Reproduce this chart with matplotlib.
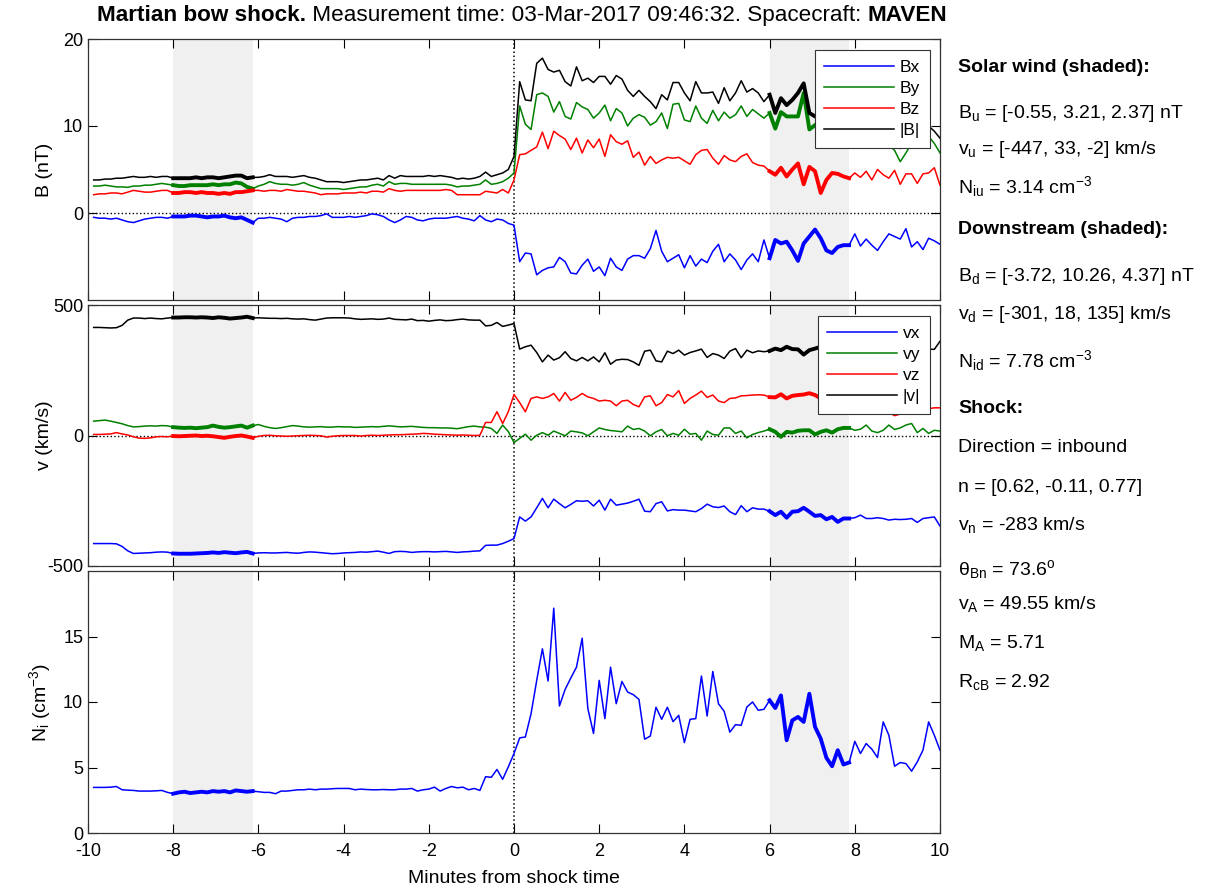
import numpy as np
import matplotlib
matplotlib.use('Agg')
import matplotlib.pyplot as plt

plt.rcParams['font.family'] = ['Liberation Sans', 'DejaVu Sans']
plt.rcParams['mathtext.fontset'] = 'custom'
plt.rcParams['mathtext.rm'] = 'Liberation Sans'
plt.rcParams['mathtext.it'] = 'Liberation Sans:italic'
plt.rcParams['mathtext.bf'] = 'Liberation Sans:bold'
plt.rcParams['axes.unicode_minus'] = False

# ---------------- data (minutes from shock time, 8 s cadence) ----------------
t = np.arange(1, 151) * 8 / 60 - 10

Bx = [-0.5,-0.6,-0.6,-0.7,-0.6,-0.8,-1.0,-1.1,-0.9,-0.7, -0.6,-0.5,-0.5,-0.6,-0.4,-0.4,-0.4,-0.3,-0.3,-0.4,
      -0.5,-0.4,-0.4,-0.3,-0.5,-0.6,-0.5,-0.8,-1.1,-0.6, -0.6,-0.5,-0.6,-0.7,-1.0,-0.6,-0.5,-0.5,-0.4,-0.4,
      -0.3,-0.1,-0.5,-0.5,-0.5,-0.4,-0.5,-0.4,-0.3,-0.1, -0.2,-0.4,-0.8,-1.1,-0.8,-0.4,-0.5,-0.8,-0.9,-0.7,
      -0.6,-0.6,-0.6,-0.5,-0.4,-0.6,-0.7,-0.9,-0.3,-0.8, -1.0,-0.7,-0.8,-1.2,-1.4,
      -5.6,-4.6,-4.7,-7.1,-6.6,-6.3,-6.2,-5.1,-5.6,-6.9, -7.0,-6.0,-5.3,-6.7,-6.2,-7.2,-5.2,-6.2,-6.6,-5.3,
      -4.9,-4.9,-5.2,-4.1,-2.0,-4.4,-5.6,-5.2,-4.8,-6.3, -4.9,-6.1,-5.3,-5.7,-4.4,-3.6,-5.6,-4.7,-5.4,
      -6.5,-5.4,-4.7,-5.6,-3.1,-5.2,-3.1,-3.5,-3.3,-4.3, -5.5,-3.5,-2.7,-1.9,-2.9,-4.3,-4.6,-3.9,-3.7,-3.7,
      -2.4,-3.8,-3.0,-3.7,-4.3,-3.3,-2.4,-2.7,-3.0,-1.8, -3.9,-3.3,-4.2,-2.9,-3.2,-3.6]
By = [3.1,3.1,3.2,3.1,3.0,3.0,2.95,3.1,3.1,3.2, 3.2,3.3,3.4,3.3,3.2,3.1,3.1,3.2,3.2,3.2,
      3.2,3.3,3.2,3.3,3.3,3.5,3.4,3.0,2.8,3.1, 3.3,3.6,3.4,3.3,3.3,3.2,3.3,3.5,3.2,3.0,
      2.8,2.8,2.8,2.8,2.7,2.8,2.9,3.0,3.0,3.2, 3.3,3.1,3.6,3.3,3.4,3.4,3.3,3.3,3.3,3.3,
      3.3,3.3,3.3,3.2,3.0,3.1,3.1,3.2,3.3,3.8, 3.3,3.4,3.6,4.0,4.6,
      12.3,10.2,9.6,13.6,13.8,13.4,11.6,12.8,11.1,10.8, 12.7,12.2,11.9,10.9,11.5,12.4,10.6,12.0,11.5,10.0,
      10.9,11.3,11.0,10.1,10.5,11.5,9.7,12.5,12.6,10.7, 10.5,12.3,10.9,10.3,11.8,10.6,11.6,10.9,11.3,
      12.3,11.1,11.9,11.4,10.9,11.5,9.7,11.6,11.1,11.1, 11.1,13.8,9.6,10.1,10.6,9.5,8.5,7.8,8.6,9.0,
      8.5,8.2,7.7,8.5,9.0,8.3,7.8,7.2,5.9,6.9, 8.0,7.8,8.5,8.8,8.0,6.9]
Bz = [2.1,2.2,2.2,2.3,2.3,2.2,2.4,2.6,2.5,2.4, 2.4,2.5,2.6,2.6,2.3,2.3,2.4,2.4,2.3,2.4,
      2.3,2.3,2.2,2.3,2.2,2.4,2.4,2.5,2.6,2.6, 2.5,2.6,2.6,2.5,2.7,2.6,2.5,2.5,2.4,2.3,
      2.1,2.2,2.2,2.2,2.3,2.3,2.3,2.4,2.3,2.5, 2.5,2.4,2.8,2.6,2.5,2.6,2.6,2.6,2.6,2.6,
      2.6,2.6,2.7,2.6,2.1,2.1,2.1,2.1,2.1,2.5, 2.4,2.3,2.7,2.3,3.8,
      6.7,6.8,7.2,7.6,9.3,7.4,9.4,8.9,8.5,7.3, 8.6,6.9,8.4,7.5,8.5,6.5,9.0,8.2,7.9,8.3,
      6.4,7.0,5.5,6.5,5.7,6.1,6.4,6.3,6.4,6.0, 5.6,6.7,7.2,7.3,6.3,5.6,6.6,6.1,5.9,
      6.5,6.8,5.8,5.5,5.4,4.8,4.4,5.2,4.2,5.0, 5.7,3.3,5.3,4.8,2.3,3.8,4.6,4.5,4.2,4.0,
      4.6,4.1,4.8,3.8,5.0,4.4,4.0,4.9,3.3,4.5, 4.5,3.4,4.5,4.6,5.2,3.2]
Bt = [3.8,3.8,3.9,3.9,4.0,4.0,4.1,4.2,4.1,4.1, 4.2,4.1,4.2,4.2,4.0,4.0,4.0,4.0,4.1,4.0,
      4.1,4.1,4.0,4.1,4.2,4.3,4.3,4.0,4.1,4.1, 4.2,4.4,4.2,4.2,4.2,4.1,4.2,4.3,4.1,4.0,
      3.8,3.6,3.6,3.6,3.5,3.6,3.7,3.8,3.8,3.9, 4.0,3.8,4.3,4.0,4.3,4.2,4.2,4.2,4.2,4.3,
      4.2,4.3,4.2,4.1,3.9,4.0,3.9,4.0,4.2,4.7, 4.2,4.4,4.6,5.0,6.5,
      15.1,13.0,12.9,17.2,17.8,16.5,16.2,16.4,15.1,14.6, 16.8,15.2,15.5,15.0,15.7,15.7,14.8,15.8,15.4,14.1,
      13.4,14.1,13.4,12.8,12.0,13.6,13.0,15.0,15.0,13.8, 12.9,15.1,13.8,13.8,13.9,12.6,14.4,12.9,13.8,
      15.2,13.9,14.3,13.8,12.8,13.6,11.5,13.2,12.4,13.0, 13.8,14.9,11.5,11.1,11.3,11.1,10.7,9.8,10.2,10.4,
      10.0,9.9,9.6,10.0,11.2,9.5,8.9,8.6,7.4,8.2, 9.2,9.3,9.9,10.0,9.4,8.6]

vx = [-414,-414,-414,-414,-415,-425,-442,-452,-451,-450, -449,-447,-446,-447,-452,-453,-453,-453,-452,-451,
      -450,-448,-450,-447,-449,-451,-448,-446,-452,-450, -449,-450,-450,-449,-448,-450,-451,-448,-446,-447,
      -449,-451,-453,-452,-450,-449,-448,-446,-447,-445, -443,-447,-452,-445,-444,-445,-448,-446,-445,-445,
      -446,-445,-444,-446,-448,-446,-445,-443,-442,-421, -420,-420,-414,-405,-395,
      -312,-328,-312,-277,-241,-277,-244,-261,-277,-264, -250,-252,-250,-270,-248,-286,-244,-267,-263,-259,
      -252,-244,-290,-292,-261,-254,-289,-284,-286,-286, -289,-292,-280,-263,-273,-276,-270,-292,-303,
      -269,-292,-277,-282,-282,-290,-305,-292,-315,-292, -290,-277,-292,-308,-305,-321,-312,-331,-318,-318,
      -315,-305,-318,-318,-315,-318,-324,-321,-322,-321, -318,-333,-318,-315,-312,-347]
vy = [55,57,59,55,50,45,38,33,34,36, 37,36,38,37,32,30,29,30,28,30,
      32,38,33,30,32,35,38,30,38,42, 35,30,27,30,34,38,36,33,32,33,
      34,32,32,34,33,33,31,32,33,34, 33,35,37,35,33,34,35,33,31,30,
      30,29,29,28,26,30,34,36,33,32, 27,8,40,15,-27,
      -11,5,-18,1,11,1,17,8,-1,17, 14,10,-1,14,29,23,19,17,14,36,
      23,27,17,-1,14,23,-1,8,1,24, 5,8,-18,17,4,1,29,29,8,
      17,-9,4,11,17,24,14,-5,14,11, 18,20,20,4,14,20,11,24,29,29,
      20,24,40,17,11,20,40,23,29,40, 46,11,27,8,20,17]
vz = [4,4,5,6,11,6,2,-5,-10,-11, -9,-5,-4,-5,-2,-3,-2,-1,0,-2,
      -1,-3,-6,-9,-5,-2,0,-4,-9,-3, 0,1,-1,-2,-3,-2,-1,0,1,0,
      -1,-6,-3,-1,0,0,0,-2,0,1, 0,1,2,3,3,4,5,6,8,7,
      5,4,3,2,1,2,1,0,1,50, 50,91,46,91,157,
      126,91,142,148,142,148,161,132,165,135, 146,161,148,142,132,135,132,114,132,135,
      119,110,148,152,114,126,157,148,172,123, 142,155,170,146,155,132,126,142,144,
      152,153,155,156,155,147,146,158,142,152, 155,157,162,155,142,118,100,90,105,98,
      110,115,108,112,105,100,88,76,82,90, 100,96,98,103,106,106]
vt = [414,414,413,412,413,422,442,450,450,448, 450,448,447,450,452,452,453,453,452,453,
      452,450,453,451,448,450,452,455,450,451, 450,449,449,448,449,447,446,447,444,442,
      446,450,451,451,451,450,447,445,446,447, 445,446,450,445,444,443,446,440,441,438,
      441,443,440,441,444,446,443,442,442,420, 422,433,418,423,429,
      331,340,346,318,282,308,289,298,321,295, 286,299,286,301,282,317,273,289,292,291,
      282,269,323,327,286,282,323,314,327,308, 318,324,331,299,314,308,295,323,333,
      298,327,317,324,321,324,333,327,340,331, 330,310,327,333,340,342,328,344,336,334,
      334,327,338,338,332,334,338,331,334,336, 337,347,334,331,330,361]

Ni = [3.48,3.48,3.48,3.5,3.55,3.3,3.27,3.25,3.2,3.2, 3.2,3.22,3.25,3.1,3.0,3.1,3.15,3.05,3.1,3.15,
      3.1,3.2,3.15,3.2,3.1,3.25,3.2,3.15,3.2,3.15, 3.1,3.1,3.0,3.2,3.2,3.25,3.3,3.3,3.35,3.3,
      3.35,3.35,3.38,3.4,3.4,3.4,3.3,3.35,3.32,3.3, 3.3,3.32,3.3,3.3,3.35,3.35,3.4,3.2,3.3,3.35,
      3.5,3.2,3.4,3.55,3.45,3.5,3.3,3.4,3.25,4.3, 4.25,4.85,4.1,5.05,6.07,
      7.26,7.33,9.1,11.65,14.06,11.6,17.16,9.7,10.96,11.83, 12.66,14.87,9.5,7.6,11.65,8.73,12.66,9.87,11.57,10.76,
      10.56,10.2,7.16,7.4,9.6,8.68,9.6,8.5,8.98,6.9, 8.68,8.73,11.98,8.93,12.33,9.87,9.29,7.7,8.27,
      8.22,9.62,10.0,9.37,9.44,10.13,9.54,10.5,7.08,8.6, 8.86,8.48,10.63,8.1,7.2,5.74,5.1,6.32,5.23,5.38,
      7.0,6.07,6.83,6.4,5.76,8.48,7.46,5.1,5.38,5.3, 4.72,5.43,6.32,8.48,7.46,6.32]

# shaded intervals (sample index ranges): solar wind, downstream
shade_ranges = [(14, 28), (119, 133)]

B_labels = ['Bx', 'By', 'Bz', '|B|']
v_labels = ['vx', 'vy', 'vz', '|v|']
colors = ['#0000ff', '#008000', '#ff0000', '#000000']

x_ticks = [-10, -8, -6, -4, -2, 0, 2, 4, 6, 8, 10]

info_lines = [
    ('Solar wind (shaded):', 'bold', 72),
    (r'B$_\mathregular{u}$ = [-0.55, 3.21, 2.37] nT', 'normal', 118),
    (r'v$_\mathregular{u}$ = [-447, 33, -2] km/s', 'normal', 154),
    (r'N$_\mathregular{iu}$ = 3.14 cm$^\mathregular{-3}$', 'normal', 193),
    ('Downstream (shaded):', 'bold', 234),
    (r'B$_\mathregular{d}$ = [-3.72, 10.26, 4.37] nT', 'normal', 281),
    (r'v$_\mathregular{d}$ = [-301, 18, 135] km/s', 'normal', 319),
    (r'N$_\mathregular{id}$ = 7.78 cm$^\mathregular{-3}$', 'normal', 367),
    ('Shock:', 'bold', 413),
    ('Direction = inbound', 'normal', 452),
    ('n = [0.62, -0.11, 0.77]', 'normal', 492),
    (r'v$_\mathregular{n}$ = -283 km/s', 'normal', 530),
    (r'θ$_\mathregular{Bn}$ = 73.6$^\mathregular{o}$', 'normal', 575),
    (r'v$_\mathregular{A}$ = 49.55 km/s', 'normal', 609),
    (r'M$_\mathregular{A}$ = 5.71', 'normal', 648),
    (r'R$_\mathregular{cB}$ = 2.92', 'normal', 687),
]

# ---------------- figure ----------------
W, H = 1216, 894
fig = plt.figure(figsize=(W / 100, H / 100), dpi=100)

def axes_px(x0, y0, x1, y1):
    return fig.add_axes([x0 / W, 1 - y1 / H, (x1 - x0) / W, (y1 - y0) / H])

ax1 = axes_px(88, 39, 940, 300)
ax2 = axes_px(88, 305, 940, 566)
ax3 = axes_px(88, 571, 940, 833)

spine_c = '#333333'
for ax in (ax1, ax2, ax3):
    ax.set_xlim(-10, 10)
    ax.set_xticks(x_ticks)
    for i0, i1 in shade_ranges:
        ax.axvspan(t[i0], t[i1], color='#f0f0f0', zorder=0, lw=0)
    ax.axvline(0, color='k', ls=':', lw=1.1, zorder=1)
    ax.tick_params(direction='in', length=6.5, width=0.8, top=True, right=True,
                   labelsize=13, colors='k')
    ax.tick_params(axis='x', pad=7)
    for s in ax.spines.values():
        s.set_color(spine_c)
        s.set_linewidth(0.9)

def draw(ax, series, labels):
    handles = []
    for y, c, lab in zip(series, colors, labels):
        y = np.asarray(y, dtype=float)
        h, = ax.plot(t, y, color=c, lw=1.1, label=lab, zorder=3)
        handles.append(h)
        for i0, i1 in shade_ranges:
            ax.plot(t[i0:i1 + 1], y[i0:i1 + 1], color=c, lw=2.8, zorder=3,
                    solid_joinstyle='round')
    leg = ax.legend(handles=handles, loc='upper right', bbox_to_anchor=(0.988, 0.958),
                    borderaxespad=0, fontsize=12.5, handlelength=4.0, handletextpad=0.35,
                    labelspacing=0.35, borderpad=0.55, fancybox=False, framealpha=1,
                    edgecolor=spine_c)
    leg.get_frame().set_linewidth(0.8)
    leg.set_zorder(10)

draw(ax1, [Bx, By, Bz, Bt], B_labels)
ax1.axhline(0, color='k', ls=':', lw=1.0, zorder=1)
ax1.set_ylim(-10, 20)
ax1.set_yticks([0, 10, 20])
ax1.tick_params(labelbottom=False)
ax1.set_ylabel('B (nT)', fontsize=14)

draw(ax2, [vx, vy, vz, vt], v_labels)
ax2.axhline(0, color='k', ls=':', lw=1.0, zorder=1)
ax2.set_ylim(-500, 500)
ax2.set_yticks([-500, 0, 500])
ax2.tick_params(labelbottom=False)
ax2.set_ylabel('v (km/s)', fontsize=14)

ax3.plot(t, Ni, color='#0000ff', lw=1.1, zorder=3)
Ni_arr = np.asarray(Ni, dtype=float)
for i0, i1 in shade_ranges:
    ax3.plot(t[i0:i1 + 1], Ni_arr[i0:i1 + 1], color='#0000ff', lw=2.8, zorder=3,
             solid_joinstyle='round')
ax3.set_ylim(0, 20)
ax3.set_yticks([0, 5, 10, 15])
ax3.set_ylabel(r'N$_\mathregular{i}$ (cm$^\mathregular{-3}$)', fontsize=14)
ax3.set_xlabel('Minutes from shock time', fontsize=14)
ax3.xaxis.set_label_coords(0.5, -0.14)

for ax in (ax1, ax2, ax3):
    ax.yaxis.set_label_coords(-0.041, 0.5)

# title with mixed weights
t1 = fig.text(97 / W, 1 - 21 / H, 'Martian bow shock.', fontsize=16.2, weight='bold',
              va='baseline', ha='left')
t2 = ax1.annotate(' Measurement time: 03-Mar-2017 09:46:32. Spacecraft: ', xy=(1, 0),
                  xycoords=t1, fontsize=16.2, va='bottom', ha='left', annotation_clip=False)
t3 = ax1.annotate('MAVEN', xy=(1, 0), xycoords=t2, fontsize=16.2, weight='bold',
                  va='bottom', ha='left', annotation_clip=False)

for txt, wt, yb in info_lines:
    fig.text(958 / W, 1 - yb / H, txt, fontsize=14, weight=wt, va='baseline', ha='left')

fig.savefig('out.png', dpi=100)
